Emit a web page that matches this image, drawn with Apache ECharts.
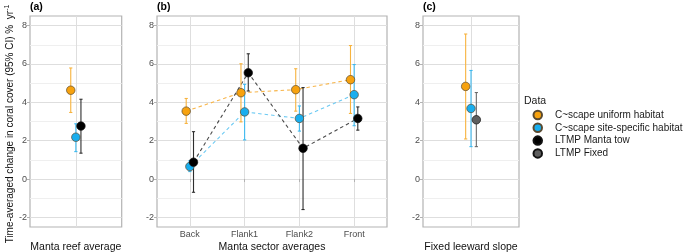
<!DOCTYPE html>
<html><head><meta charset="utf-8">
<script src="https://cdn.jsdelivr.net/npm/echarts@6/dist/echarts.min.js"></script>
<style>html,body{margin:0;padding:0;background:#fff}#c{width:685px;height:252px}</style>
</head><body><div id="c"></div>
<script>
// ---- data ----
const groups = ['C~scape uniform habitat','C~scape site-specific habitat','LTMP Manta tow','LTMP Fixed'];
const yTicks = [-2,0,2,4,6,8];

// panel (a) Manta reef average: uniform, site-specific, manta tow
const reefMean = [4.63, 2.18, 2.76];
const reefLo   = [3.47, 1.43, 1.35];
const reefHi   = [5.79, 2.88, 4.16];

// panel (b) Manta sector averages
const sectors = ['Back','Flank1','Flank2','Front'];
const sectorUniform   = [3.54, 4.50, 4.66, 5.18];
const sectorUniformLo = [2.90, 2.98, 3.54, 3.42];
const sectorUniformHi = [4.20, 6.01, 5.75, 6.96];
const sectorSite   = [0.65, 3.50, 3.16, 4.40];
const sectorSiteLo = [0.39, 2.04, 2.50, 2.78];
const sectorSiteHi = [0.95, 4.94, 3.81, 5.97];
const sectorTow   = [0.88, 5.54, 1.60, 3.16];
const sectorTowLo = [-0.69, 4.59, -1.59, 2.55];
const sectorTowHi = [2.47, 6.53, 4.77, 3.76];

// panel (c) Fixed leeward slope: uniform, site-specific, LTMP fixed
const fixedMean = [4.83, 3.68, 3.09];
const fixedLo   = [2.09, 1.69, 1.69];
const fixedHi   = [7.56, 5.66, 4.51];

// ---- styles ----
const FONT = 'Liberation Sans, Arial, sans-serif';
const fill   = ['#F7A20E', '#19AEEE', '#000000', '#5E5E5E'];
const errCol = ['#F7B33E', '#3DBAF0', '#2E2E2E', '#6A6A6A'];
const lineCol= ['#F7B54A', '#6CCAF3', '#4A4A4A'];
const dodge = [-0.0667, 0, 0.0667];

const series = [];
function addGroup(gi, gridIdx, xs, mean, lo, hi, withLine){
  const pts = mean.map((v,i)=>[xs[i], v]);
  const ebs = mean.map((v,i)=>[xs[i], lo[i], hi[i]]);
  if (withLine) {
    series.push({type:'line', name:'line'+gi, xAxisIndex:gridIdx, yAxisIndex:gridIdx, data:pts,
      showSymbol:false, symbol:'none', silent:true, z:1,
      lineStyle:{color:lineCol[gi], width:1.1, type:[3.5,3]}});
  }
  series.push({type:'custom', name:'eb'+gi, xAxisIndex:gridIdx, yAxisIndex:gridIdx, data:ebs, z:2, silent:true,
    encode:{x:0, y:[1,2]},
    renderItem:function(params, api){
      const x = api.value(0), l = api.value(1), h = api.value(2);
      const a = api.coord([x,l]), b = api.coord([x,h]);
      const hw = 1.6;
      const st = {stroke: errCol[gi], lineWidth: 1.1};
      return {type:'group', children:[
        {type:'line', shape:{x1:a[0],y1:a[1],x2:b[0],y2:b[1]}, style:st},
        {type:'line', shape:{x1:a[0]-hw,y1:a[1],x2:a[0]+hw,y2:a[1]}, style:st},
        {type:'line', shape:{x1:b[0]-hw,y1:b[1],x2:b[0]+hw,y2:b[1]}, style:st}
      ]};
    }});
  series.push({type:'scatter', name:groups[gi], xAxisIndex:gridIdx, yAxisIndex:gridIdx, data:pts, z:3,
    symbol:'circle', symbolSize:8.5,
    itemStyle:{color:fill[gi], borderColor: gi>=2 ? '#111' : '#5a4a30', borderWidth:0.7, opacity:1}});
}
// panel a
[0,1,2].forEach(g=>addGroup(g, 0, [1+dodge[g]], [reefMean[g]], [reefLo[g]], [reefHi[g]], false));
// panel b
const sb = [[sectorUniform,sectorUniformLo,sectorUniformHi],[sectorSite,sectorSiteLo,sectorSiteHi],[sectorTow,sectorTowLo,sectorTowHi]];
[0,1,2].forEach(g=>addGroup(g, 1, sectors.map((s,i)=>i+1+dodge[g]), sb[g][0], sb[g][1], sb[g][2], true));
// panel c
[0,1,3].forEach((g,k)=>addGroup(g, 2, [1+dodge[k]], [fixedMean[k]], [fixedLo[k]], [fixedHi[k]], false));

const grids = [
  {left:30, top:16, width:91.7, height:211},
  {left:157, top:16, width:230, height:211},
  {left:423, top:16, width:96, height:211}
].map(g=>Object.assign(g,{show:true, borderColor:'#B3B3B3', borderWidth:1.2, backgroundColor:'transparent',
  containLabel:false, outerBoundsMode:'none'}));

const xNames = ['Manta reef average','Manta sector averages','Fixed leeward slope'];
const xAxes = [0,1,2].map(i=>{
  const isB = i===1;
  return {type:'value', gridIndex:i, min:0.4, max: isB?4.6:1.6,
    name:xNames[i], nameLocation:'middle', nameGap:15, nameMoveOverlap:false,
    nameTextStyle:{fontFamily:FONT, fontSize:10.5, color:'#111'},
    axisLine:{show:false},
    axisTick:{show:isB, length:3, lineStyle:{color:'#B3B3B3'}, customValues: isB?[1,2,3,4]:[1]},
    axisLabel:{show:isB, customValues: isB?[1,2,3,4]:[1], margin:3, fontFamily:FONT, fontSize:9, color:'#4D4D4D',
      formatter:v=>sectors[Math.round(v)-1] || ''},
    splitLine:{show:true, lineStyle:{color:'#DEDEDE', width:1}}
  };
});
const yAxes = [];
[0,1,2].forEach(i=>{
  yAxes.push({type:'value', gridIndex:i, min:-2.5, max:8.5,
    axisLine:{show:false},
    axisTick:{show:true, length:3, lineStyle:{color:'#B3B3B3'}, customValues:yTicks},
    axisLabel:{show:true, customValues:yTicks, margin:3, fontFamily:FONT, fontSize:9, color:'#4D4D4D'},
    splitLine:{show:false}});
});
[0,1,2].forEach(i=>{
  yAxes.push({type:'value', gridIndex:i, min:-2.5, max:8.5, interval:0.5,
    axisLine:{show:false}, axisTick:{show:false}, axisLabel:{show:false},
    splitLine:{show:true, lineStyle:{color:['rgba(0,0,0,0)','#DEDEDE','rgba(0,0,0,0)','#EFEFEF'], width:1}}});
});

const chart = echarts.init(document.getElementById('c'), null, {renderer:'canvas'});
chart.setOption({
  animation:false,
  textStyle:{fontFamily:FONT},
  grid:grids, xAxis:xAxes, yAxis:yAxes, series:series,
  legend:{orient:'vertical', left:532.5, top:108.6, padding:0, itemGap:0,
    icon:'circle', itemWidth:8.5, itemHeight:8.5,
    data:groups, selectedMode:false,
    textStyle:{fontFamily:FONT, fontSize:10, color:'#1a1a1a', lineHeight:12.8, padding:[0,0,0,8]}},
  graphic:[
    {type:'text', left:524, top:96, style:{text:'Data', font:'10.5px '+FONT, fill:'#1a1a1a'}},
    {type:'text', left:30, top:2, style:{text:'(a)', font:'bold 10.5px '+FONT, fill:'#000'}},
    {type:'text', left:157, top:2, style:{text:'(b)', font:'bold 10.5px '+FONT, fill:'#000'}},
    {type:'text', left:423, top:2, style:{text:'(c)', font:'bold 10.5px '+FONT, fill:'#000'}},
    {type:'text', x:10, y:124, rotation:Math.PI/2,
      style:{text:'{m|Time-averaged change in coral cover (95% CI) %  yr}{s|-1}', align:'center', verticalAlign:'middle',
        rich:{m:{fontFamily:FONT, fontSize:10, fill:'#111', lineHeight:13},
              s:{fontFamily:FONT, fontSize:7, fill:'#111', verticalAlign:'top', lineHeight:13}}}}
  ]
});
</script></body></html>
